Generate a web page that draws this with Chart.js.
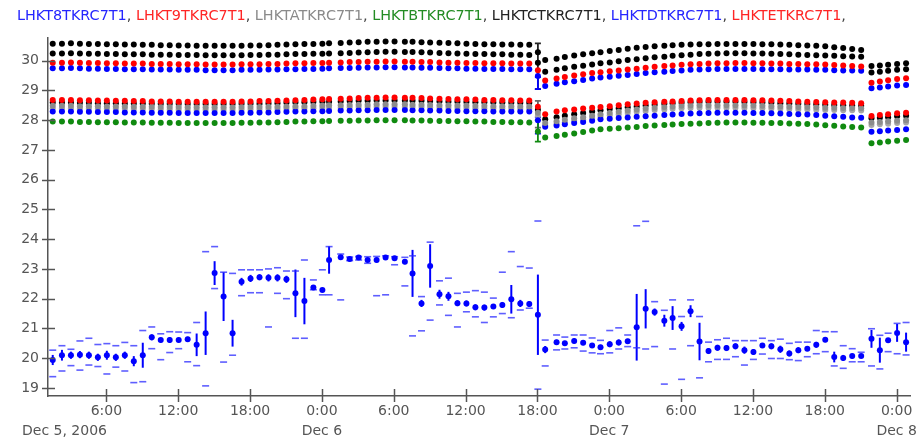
<!DOCTYPE html>
<html>
<head>
<meta charset="utf-8">
<script src="https://cdn.jsdelivr.net/npm/chart.js@4.4.1/dist/chart.umd.min.js"></script>
<style>
  html, body { margin: 0; padding: 0; background: #fff; }
</style>
</head>
<body>
<canvas id="myChart" width="922" height="439"></canvas>
<script>
    // hours since Dec 5, 2006 00:00
    const sampleHours = [
      1.52, 2.29, 3.04, 3.79, 4.54, 5.29, 6.04, 6.79, 7.54, 8.29, 9.04, 9.79, 10.54, 11.29, 12.04, 12.79, 13.54, 14.29, 15.04, 15.79, 16.54, 17.29, 18.04, 18.79, 19.54, 20.29, 21.04, 21.79,
      22.54, 23.29, 24.04, 24.6, 25.57, 26.32, 27.07, 27.82, 28.57, 29.32, 30.07, 30.93, 31.57, 32.32, 33.04, 33.82, 34.57, 35.32, 36.07, 36.82, 37.57, 38.32, 39.07, 39.82, 40.57, 41.32, 42.04, 42.65, 43.6, 44.29, 45.07, 45.82, 46.57,
      47.27, 48.04, 48.79, 49.54, 50.29, 51.04, 51.79, 52.6, 53.29, 54.04, 54.79, 55.54, 56.29, 57.04, 57.79, 58.54, 59.29, 60.04, 60.79, 61.54, 62.29, 63.04, 63.79, 64.54, 65.29, 66.04, 66.79, 67.54, 68.29, 69.04, 69.9, 70.6, 71.29, 72.04, 72.79
    ];

    const seriesNames = ['LHKT8TKRC7T1', 'LHKT9TKRC7T1', 'LHKTATKRC7T1', 'LHKTBTKRC7T1', 'LHKTCTKRC7T1', 'LHKTDTKRC7T1', 'LHKTETKRC7T1'];
    const seriesColors = ['#0000ff', '#ff0000', '#8c8c8c', '#108a10', '#000000', '#0000ff', '#ff0000'];
    const legendColors = ['#2525ff', '#ff2525', '#8a8a8a', '#238c23', '#222222', '#2525ff', '#ff2525'];

    const timeTicks = [6, 12, 18, 24, 30, 36, 42, 48, 54, 60, 66, 72];
    const dayLabels = ['Dec 5, 2006', 'Dec 6', 'Dec 7', 'Dec 8'];
    const tempTicks = [19, 20, 21, 22, 23, 24, 25, 26, 27, 28, 29, 30];

    // LHKT8TKRC7T1: mean, std dev, max, min
    const t8Mean = [
      19.94, 20.10, 20.10, 20.12, 20.10, 20.03, 20.10, 20.03, 20.10, 19.90, 20.10, 20.70, 20.61, 20.61, 20.61, 20.64, 20.45, 20.84, 22.86, 22.07, 20.84, 22.57, 22.68, 22.72, 22.70, 22.70, 22.65, 22.18,
      21.92, 22.38, 22.29, 23.30, 23.39, 23.33, 23.38, 23.30, 23.30, 23.38, 23.36, 23.24, 22.85, 21.84, 23.10, 22.15, 22.08, 21.85, 21.84, 21.71, 21.70, 21.74, 21.79, 21.98, 21.84, 21.82, 21.46, 20.29, 20.54, 20.50, 20.58, 20.52, 20.43,
      20.37, 20.47, 20.53, 20.57, 21.04, 21.66, 21.55, 21.26, 21.35, 21.07, 21.58, 20.56, 20.24, 20.35, 20.34, 20.40, 20.27, 20.21, 20.43, 20.40, 20.30, 20.16, 20.27, 20.32, 20.45, 20.62, 20.04, 20.01, 20.07, 20.07, 20.65, 20.27, 20.60, 20.85, 20.54
    ];
    const t8Sd = [
      0.17, 0.18, 0.12, 0.12, 0.12, 0.12, 0.15, 0.12, 0.12, 0.17, 0.42, 0.10, 0.08, 0.10, 0.08, 0.08, 0.38, 0.73, 0.40, 0.82, 0.45, 0.13, 0.12, 0.10, 0.12, 0.12, 0.12, 0.80,
      0.78, 0.06, 0.06, 0.46, 0.05, 0.04, 0.04, 0.06, 0.08, 0.06, 0.05, 0.08, 0.79, 0.12, 0.73, 0.15, 0.15, 0.10, 0.10, 0.10, 0.10, 0.08, 0.10, 0.48, 0.12, 0.10, 1.35, 0.12, 0.08, 0.08, 0.08, 0.08, 0.08,
      0.08, 0.10, 0.10, 0.08, 1.12, 0.66, 0.12, 0.20, 0.40, 0.15, 0.20, 0.63, 0.10, 0.10, 0.10, 0.10, 0.12, 0.10, 0.08, 0.10, 0.12, 0.10, 0.10, 0.08, 0.10, 0.08, 0.18, 0.10, 0.08, 0.06, 0.30, 0.42, 0.08, 0.30, 0.32
    ];
    const t8Max = [
      20.27, 20.42, 20.30, 20.58, 20.67, 20.46, 20.49, 20.42, 20.53, 20.42, 20.93, 21.05, 20.82, 20.89, 20.88, 20.86, 21.20, 23.58, 23.75, 22.89, 22.85, 22.97, 22.97, 22.97, 23.00, 23.04, 22.93, 22.93,
      23.30, 22.63, 22.97, 23.75, 23.50, 23.40, 23.42, 23.41, 23.42, 23.44, 23.41, 23.39, 23.44, 22.07, 23.90, 22.60, 22.69, 22.18, 22.22, 22.27, 22.22, 22.02, 22.89, 23.58, 23.08, 23.03, 24.61, 20.61, 20.78, 20.71, 20.78, 20.78, 20.68,
      20.60, 20.93, 21.02, 20.78, 24.45, 24.60, 21.90, 21.61, 21.96, 21.40, 21.96, 21.40, 20.54, 20.62, 20.67, 20.59, 20.59, 20.59, 20.67, 20.59, 20.64, 20.50, 20.54, 20.54, 20.93, 20.89, 20.89, 20.42, 20.32, 20.20, 20.99, 20.77, 20.84, 21.17, 21.20
    ];
    const t8Min = [
      19.38, 19.57, 19.75, 19.60, 19.77, 19.72, 19.47, 19.70, 19.57, 19.18, 19.21, 20.32, 19.95, 20.19, 20.32, 19.88, 19.75, 19.07, 22.34, 19.87, 20.10, 22.10, 22.20, 22.20, 21.05, 22.18, 22.00, 20.67,
      20.67, 22.30, 22.13, 22.13, 21.96, 23.28, 23.30, 23.19, 22.10, 22.13, 23.14, 22.43, 20.75, 20.92, 21.28, 21.79, 21.44, 21.05, 21.56, 21.39, 21.20, 21.39, 21.50, 21.36, 21.62, 21.68, 18.96, 19.74, 20.28, 20.31, 20.35, 20.24, 20.18,
      20.15, 20.18, 20.31, 20.39, 20.35, 20.31, 20.39, 19.13, 20.31, 19.29, 20.42, 19.34, 19.88, 19.96, 19.96, 20.05, 19.77, 19.96, 20.14, 19.99, 19.99, 19.95, 19.92, 20.05, 20.15, 20.22, 19.74, 19.66, 19.88, 19.88, 19.74, 19.64, 20.22, 20.15, 20.11
    ];

    const t9Values = [
      28.68, 28.68, 28.68, 28.67, 28.67, 28.66, 28.66, 28.65, 28.65, 28.64, 28.64, 28.63, 28.63, 28.63, 28.62, 28.62, 28.62, 28.62, 28.62, 28.62, 28.62, 28.63, 28.63, 28.64, 28.64, 28.65, 28.66, 28.67,
      28.68, 28.69, 28.70, 28.71, 28.72, 28.73, 28.74, 28.75, 28.75, 28.76, 28.76, 28.75, 28.75, 28.74, 28.73, 28.72, 28.71, 28.70, 28.70, 28.69, 28.68, 28.68, 28.67, 28.67, 28.66, 28.66, 28.45,
      28.20, 28.29, 28.33, 28.36, 28.39, 28.42, 28.44, 28.47, 28.50, 28.53, 28.56, 28.58, 28.60, 28.62, 28.63, 28.64, 28.66, 28.67, 28.68, 28.68, 28.68, 28.68, 28.68, 28.67, 28.67, 28.66, 28.65, 28.64, 28.63, 28.62, 28.61, 28.60, 28.59, 28.59, 28.58, 28.57,
      28.14, 28.17, 28.20, 28.23, 28.25
    ];
    const taValues = [
      28.48, 28.48, 28.48, 28.47, 28.47, 28.47, 28.46, 28.46, 28.46, 28.45, 28.45, 28.45, 28.44, 28.44, 28.44, 28.43, 28.43, 28.43, 28.43, 28.43, 28.43, 28.44, 28.44, 28.44, 28.45, 28.45, 28.46, 28.47,
      28.47, 28.48, 28.49, 28.50, 28.50, 28.51, 28.52, 28.52, 28.53, 28.53, 28.53, 28.53, 28.52, 28.52, 28.51, 28.50, 28.50, 28.49, 28.49, 28.48, 28.48, 28.47, 28.47, 28.47, 28.46, 28.46, 28.25,
      27.90, 27.96, 28.01, 28.06, 28.10, 28.15, 28.20, 28.24, 28.28, 28.32, 28.36, 28.39, 28.42, 28.44, 28.46, 28.48, 28.49, 28.50, 28.50, 28.50, 28.50, 28.50, 28.49, 28.49, 28.48, 28.47, 28.46, 28.45, 28.44, 28.44, 28.43, 28.42, 28.42, 28.41, 28.41, 28.40,
      27.92, 27.94, 27.96, 27.98, 28.00
    ];
    const tbValues = [
      27.95, 27.95, 27.95, 27.94, 27.94, 27.93, 27.93, 27.93, 27.92, 27.92, 27.92, 27.91, 27.91, 27.91, 27.90, 27.90, 27.90, 27.90, 27.90, 27.90, 27.90, 27.91, 27.91, 27.92, 27.92, 27.93, 27.94, 27.95,
      27.95, 27.96, 27.96, 27.97, 27.98, 27.98, 27.99, 27.99, 28.00, 28.00, 28.00, 28.00, 27.99, 27.99, 27.98, 27.97, 27.97, 27.96, 27.96, 27.95, 27.95, 27.94, 27.94, 27.93, 27.93, 27.92, 27.62,
      27.42, 27.47, 27.51, 27.55, 27.60, 27.65, 27.69, 27.71, 27.73, 27.75, 27.77, 27.80, 27.82, 27.84, 27.85, 27.87, 27.88, 27.89, 27.90, 27.91, 27.92, 27.92, 27.92, 27.91, 27.91, 27.90, 27.90, 27.89, 27.88, 27.87, 27.85, 27.83, 27.81, 27.79, 27.77, 27.75,
      27.22, 27.25, 27.28, 27.31, 27.33
    ];
    const tcValues = [
      28.59, 28.59, 28.59, 28.58, 28.58, 28.57, 28.57, 28.57, 28.56, 28.56, 28.56, 28.55, 28.55, 28.55, 28.55, 28.54, 28.54, 28.54, 28.54, 28.54, 28.54, 28.55, 28.55, 28.55, 28.56, 28.57, 28.58, 28.59,
      28.60, 28.61, 28.62, 28.62, 28.63, 28.64, 28.65, 28.65, 28.66, 28.66, 28.66, 28.66, 28.65, 28.65, 28.64, 28.63, 28.62, 28.62, 28.61, 28.60, 28.60, 28.59, 28.59, 28.58, 28.58, 28.58, 28.35,
      28.03, 28.10, 28.15, 28.20, 28.24, 28.29, 28.33, 28.37, 28.40, 28.43, 28.46, 28.49, 28.52, 28.55, 28.57, 28.58, 28.60, 28.61, 28.62, 28.62, 28.62, 28.62, 28.61, 28.60, 28.59, 28.58, 28.57, 28.56, 28.55, 28.54, 28.53, 28.52, 28.51, 28.50, 28.49, 28.48,
      28.06, 28.08, 28.10, 28.13, 28.15
    ];
    const tdValues = [
      28.29, 28.29, 28.29, 28.28, 28.28, 28.27, 28.27, 28.27, 28.26, 28.26, 28.26, 28.25, 28.25, 28.25, 28.24, 28.24, 28.24, 28.24, 28.24, 28.24, 28.24, 28.25, 28.25, 28.26, 28.26, 28.27, 28.28, 28.29,
      28.29, 28.30, 28.30, 28.31, 28.32, 28.32, 28.33, 28.33, 28.34, 28.34, 28.34, 28.34, 28.33, 28.33, 28.32, 28.32, 28.31, 28.31, 28.30, 28.30, 28.30, 28.29, 28.29, 28.29, 28.29, 28.29, 28.00,
      27.78, 27.82, 27.86, 27.90, 27.94, 27.98, 28.03, 28.05, 28.07, 28.09, 28.11, 28.13, 28.15, 28.17, 28.19, 28.21, 28.22, 28.23, 28.24, 28.25, 28.25, 28.25, 28.25, 28.24, 28.24, 28.23, 28.22, 28.21, 28.20, 28.19, 28.17, 28.15, 28.13, 28.11, 28.09, 28.08,
      27.61, 27.63, 27.65, 27.67, 27.69
    ];
    const teValues = [
      29.93, 29.93, 29.94, 29.93, 29.92, 29.92, 29.91, 29.91, 29.90, 29.90, 29.90, 29.89, 29.89, 29.89, 29.88, 29.88, 29.88, 29.87, 29.87, 29.87, 29.87, 29.88, 29.88, 29.88, 29.89, 29.89, 29.90, 29.91,
      29.91, 29.92, 29.92, 29.93, 29.94, 29.95, 29.95, 29.96, 29.96, 29.97, 29.97, 29.96, 29.96, 29.95, 29.95, 29.94, 29.93, 29.93, 29.92, 29.92, 29.91, 29.91, 29.91, 29.90, 29.90, 29.90, 29.68,
      29.33, 29.40, 29.45, 29.50, 29.54, 29.58, 29.61, 29.64, 29.67, 29.70, 29.73, 29.76, 29.79, 29.82, 29.84, 29.86, 29.88, 29.89, 29.90, 29.91, 29.91, 29.92, 29.92, 29.91, 29.91, 29.90, 29.90, 29.89, 29.89, 29.88, 29.88, 29.87, 29.85, 29.84, 29.82, 29.80,
      29.26, 29.30, 29.34, 29.38, 29.41
    ];

    // further sensors of the same group (not named in the legend line)
    const blackTopValues = [
      30.57, 30.57, 30.58, 30.57, 30.56, 30.56, 30.55, 30.55, 30.54, 30.54, 30.53, 30.53, 30.52, 30.52, 30.51, 30.51, 30.50, 30.50, 30.50, 30.50, 30.50, 30.50, 30.51, 30.51, 30.52, 30.53, 30.54, 30.55,
      30.56, 30.56, 30.57, 30.58, 30.59, 30.61, 30.62, 30.63, 30.63, 30.64, 30.64, 30.63, 30.63, 30.62, 30.61, 30.60, 30.59, 30.58, 30.57, 30.56, 30.55, 30.55, 30.54, 30.54, 30.53, 30.53, 30.28,
      30.02, 30.06, 30.12, 30.17, 30.21, 30.25, 30.28, 30.32, 30.36, 30.40, 30.43, 30.46, 30.48, 30.50, 30.52, 30.53, 30.54, 30.55, 30.55, 30.56, 30.56, 30.56, 30.56, 30.56, 30.55, 30.55, 30.54, 30.53, 30.52, 30.51, 30.50, 30.48, 30.45, 30.42, 30.39, 30.36,
      29.82, 29.84, 29.86, 29.89, 29.91
    ];
    const blackSecondValues = [
      30.24, 30.24, 30.25, 30.24, 30.23, 30.23, 30.22, 30.22, 30.21, 30.21, 30.21, 30.20, 30.20, 30.20, 30.19, 30.19, 30.19, 30.18, 30.18, 30.18, 30.18, 30.18, 30.19, 30.19, 30.20, 30.20, 30.21, 30.22,
      30.22, 30.23, 30.23, 30.24, 30.25, 30.26, 30.27, 30.28, 30.29, 30.30, 30.30, 30.29, 30.29, 30.28, 30.27, 30.26, 30.25, 30.24, 30.23, 30.22, 30.22, 30.21, 30.21, 30.20, 30.20, 30.19, 29.93,
      29.63, 29.69, 29.74, 29.79, 29.83, 29.87, 29.91, 29.94, 29.98, 30.02, 30.05, 30.08, 30.11, 30.13, 30.16, 30.18, 30.20, 30.22, 30.23, 30.24, 30.25, 30.25, 30.25, 30.24, 30.24, 30.23, 30.22, 30.21, 30.20, 30.19, 30.18, 30.17, 30.16, 30.15, 30.14, 30.13,
      29.60, 29.63, 29.66, 29.69, 29.71
    ];
    const blueUpperValues = [
      29.74, 29.74, 29.75, 29.74, 29.73, 29.73, 29.72, 29.72, 29.71, 29.71, 29.71, 29.70, 29.70, 29.70, 29.69, 29.69, 29.69, 29.68, 29.68, 29.68, 29.68, 29.69, 29.69, 29.69, 29.70, 29.70, 29.71, 29.71,
      29.72, 29.72, 29.73, 29.74, 29.75, 29.75, 29.76, 29.77, 29.77, 29.78, 29.78, 29.77, 29.77, 29.76, 29.76, 29.75, 29.74, 29.74, 29.73, 29.73, 29.72, 29.72, 29.72, 29.71, 29.71, 29.71, 29.48,
      29.15, 29.22, 29.27, 29.31, 29.35, 29.40, 29.43, 29.46, 29.49, 29.52, 29.55, 29.58, 29.61, 29.63, 29.65, 29.67, 29.69, 29.70, 29.71, 29.72, 29.72, 29.72, 29.72, 29.72, 29.71, 29.71, 29.71, 29.70, 29.70, 29.70, 29.69, 29.69, 29.68, 29.67, 29.67, 29.66,
      29.07, 29.10, 29.13, 29.16, 29.18
    ];
    const grayLowerValues = [
      28.40, 28.40, 28.40, 28.39, 28.39, 28.39, 28.38, 28.38, 28.38, 28.37, 28.37, 28.37, 28.36, 28.36, 28.36, 28.35, 28.35, 28.35, 28.35, 28.35, 28.35, 28.36, 28.36, 28.36, 28.37, 28.37, 28.38, 28.39,
      28.39, 28.40, 28.41, 28.42, 28.42, 28.43, 28.44, 28.44, 28.45, 28.45, 28.45, 28.45, 28.44, 28.44, 28.43, 28.42, 28.42, 28.41, 28.41, 28.40, 28.40, 28.39, 28.39, 28.39, 28.38, 28.38, 28.15,
      27.82, 27.88, 27.93, 27.98, 28.02, 28.07, 28.12, 28.16, 28.20, 28.24, 28.28, 28.31, 28.34, 28.36, 28.38, 28.40, 28.41, 28.42, 28.42, 28.42, 28.42, 28.42, 28.41, 28.41, 28.40, 28.39, 28.38, 28.37, 28.36, 28.36, 28.35, 28.34, 28.34, 28.33, 28.33, 28.32,
      27.84, 27.86, 27.88, 27.90, 27.92
    ];

    // spread of the upper sensors in the 18:00 Dec 6 sample (index into sampleHours)
    const dropIndex = 54;
    const dropLow = [29.04, 29.04, 27.75, 27.55, 27.28];
    const dropHigh = [30.58, 29.45, 28.65, 28.10, 28.00];
    const dropColors = ['#222222', '#0000ff', '#666666', '#0000ff', '#108a10'];

    const toPoints = (values) => sampleHours.map((h, i) => ({ x: h, y: values[i] }));

    const dotSet = (label, values, color) => ({
      label: label,
      data: toPoints(values),
      pointRadius: 3,
      pointHoverRadius: 3,
      pointBorderWidth: 0,
      pointBackgroundColor: color,
      backgroundColor: color,
      borderColor: color
    });

    const dashSet = (label, values) => ({
      label: label,
      data: toPoints(values),
      pointStyle: 'line',
      pointRadius: 3.5,
      pointHoverRadius: 3.5,
      pointBorderWidth: 1.6,
      pointBorderColor: 'rgba(40,40,255,0.75)',
      borderColor: 'rgba(40,40,255,0.75)'
    });

    const datasets = [
      dotSet(seriesNames[0], t8Mean, seriesColors[0]),
      dashSet(seriesNames[0] + ' max', t8Max),
      dashSet(seriesNames[0] + ' min', t8Min),
      dotSet(seriesNames[1], t9Values, seriesColors[1]),
      dotSet(seriesNames[2], taValues, seriesColors[2]),
      dotSet(seriesNames[3], tbValues, seriesColors[3]),
      dotSet(seriesNames[4], tcValues, seriesColors[4]),
      dotSet(seriesNames[5], tdValues, seriesColors[5]),
      dotSet(seriesNames[6], teValues, seriesColors[6]),
      dotSet('black (top)', blackTopValues, '#000000'),
      dotSet('black (second)', blackSecondValues, '#000000'),
      dotSet('blue (upper)', blueUpperValues, '#0000ff'),
      dotSet('gray (lower)', grayLowerValues, '#a6a6a6')
    ];

    const vBar = (ctx, px, y1, y2, cap) => {
      ctx.beginPath();
      ctx.moveTo(px, y1);
      ctx.lineTo(px, y2);
      if (cap) {
        ctx.moveTo(px - cap, y1);
        ctx.lineTo(px + cap, y1);
        ctx.moveTo(px - cap, y2);
        ctx.lineTo(px + cap, y2);
      }
      ctx.stroke();
    };

    // vertical std-dev bars
    const errorBars = {
      id: 'errorBars',
      beforeDatasetsDraw(chart) {
        const { ctx, chartArea, scales: { x, y } } = chart;
        ctx.save();
        ctx.beginPath();
        ctx.rect(chartArea.left, chartArea.top, chartArea.width, chartArea.height);
        ctx.clip();
        ctx.strokeStyle = '#0000ff';
        ctx.lineWidth = 2;
        sampleHours.forEach((h, i) => {
          vBar(ctx, x.getPixelForValue(h), y.getPixelForValue(t8Mean[i] - t8Sd[i]), y.getPixelForValue(t8Mean[i] + t8Sd[i]), 0);
        });
        const dx = x.getPixelForValue(sampleHours[dropIndex]);
        dropLow.forEach((lo, k) => {
          ctx.strokeStyle = dropColors[k];
          ctx.lineWidth = 1.8;
          vBar(ctx, dx, y.getPixelForValue(lo), y.getPixelForValue(dropHigh[k]), 3);
        });
        ctx.restore();
      }
    };

    // tick marks across the axes, first date label, coloured legend line
    const decorations = {
      id: 'decorations',
      afterDraw(chart) {
        const { ctx, chartArea, scales: { x, y } } = chart;
        ctx.save();
        ctx.strokeStyle = '#555';
        ctx.lineWidth = 1.5;
        x.ticks.forEach(t => {
          const px = Math.round(x.getPixelForValue(t.value)) + 0.5;
          ctx.beginPath();
          ctx.moveTo(px, chartArea.bottom - 7);
          ctx.lineTo(px, chartArea.bottom + 6);
          ctx.stroke();
        });
        y.ticks.forEach(t => {
          const py = Math.round(y.getPixelForValue(t.value)) + 0.5;
          ctx.beginPath();
          ctx.moveTo(chartArea.left - 6, py);
          ctx.lineTo(chartArea.left + 7, py);
          ctx.stroke();
        });

        ctx.font = '14px "DejaVu Sans"';
        ctx.fillStyle = '#555';
        ctx.textAlign = 'left';
        ctx.textBaseline = 'middle';
        ctx.fillText(dayLabels[0], chartArea.left - 26, chartArea.bottom + 35);

        ctx.font = '14.4px "DejaVu Sans"';
        let lx = 17;
        seriesNames.forEach((name, i) => {
          ctx.fillStyle = legendColors[i];
          ctx.fillText(name, lx, 16);
          lx += ctx.measureText(name).width;
          ctx.fillStyle = '#444';
          ctx.fillText(', ', lx, 16);
          lx += ctx.measureText(', ').width;
        });
        ctx.restore();
      }
    };

    Chart.defaults.font.family = '"DejaVu Sans", sans-serif';
    Chart.defaults.font.size = 14;

    const config = {
      type: 'scatter',
      data: { datasets },
      options: {
        responsive: false,
        animation: false,
        events: [],
        layout: { padding: { left: 0, right: 10, top: 38, bottom: 0 } },
        plugins: {
          legend: { display: false },
          tooltip: { enabled: false }
        },
        scales: {
          x: {
            type: 'linear',
            min: 1.125,
            max: 73.125,
            afterBuildTicks: (scale) => { scale.ticks = timeTicks.map(v => ({ value: v })); },
            afterFit: (scale) => { scale.height = 43; },
            grid: { display: true, drawOnChartArea: false, drawTicks: false },
            border: { display: true, color: '#555', width: 1.5 },
            ticks: {
              autoSkip: false,
              maxRotation: 0,
              padding: 5,
              color: '#555',
              font: { size: 14, lineHeight: 1.45 },
              callback: (value) => {
                const hh = value % 24;
                const label = hh + ':00';
                return hh === 0 ? [label, dayLabels[value / 24]] : label;
              }
            }
          },
          y: {
            type: 'linear',
            min: 18.73,
            max: 30.76,
            afterBuildTicks: (scale) => { scale.ticks = tempTicks.map(v => ({ value: v })); },
            afterFit: (scale) => { scale.width = 48; },
            grid: { display: true, drawOnChartArea: false, drawTicks: false },
            border: { display: true, color: '#555', width: 1.5 },
            ticks: {
              padding: 9,
              color: '#555',
              font: { size: 14 },
              callback: (value) => String(value)
            }
          }
        }
      },
      plugins: [errorBars, decorations]
    };

    const myChart = new Chart(document.getElementById('myChart'), config);
</script>
</body>
</html>
